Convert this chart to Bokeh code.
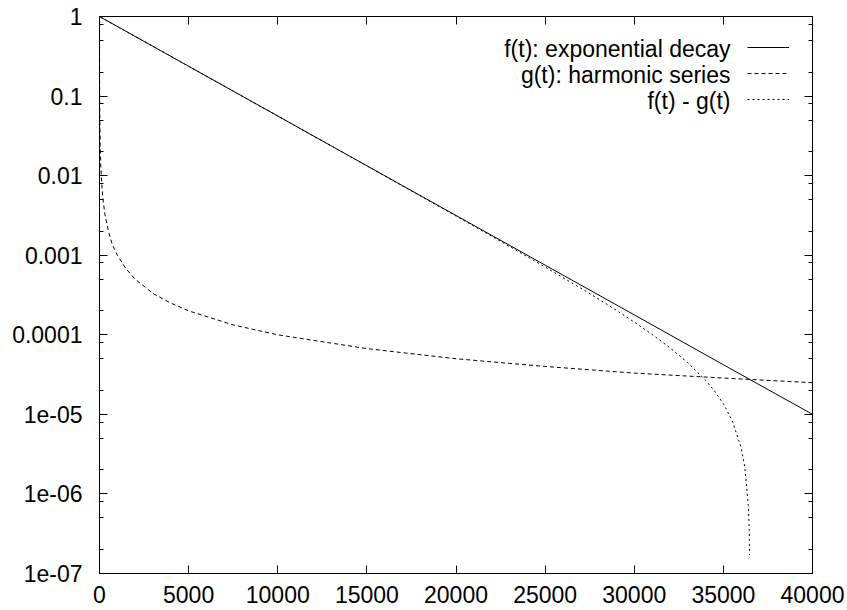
from bokeh.plotting import figure
from bokeh.models import (FixedTicker, LogAxis, LinearAxis, Label, Legend,
                          LegendItem, Range1d)
from bokeh.embed import file_html
from bokeh.resources import INLINE

# ---- axis ticks / labels ----
x_ticks = [0, 5000, 10000, 15000, 20000, 25000, 30000, 35000, 40000]
x_tick_labels = ["0", "5000", "10000", "15000", "20000", "25000", "30000", "35000", "40000"]
y_ticks = [1e-7, 1e-6, 1e-5, 1e-4, 1e-3, 1e-2, 1e-1, 1.0]
y_tick_labels = ["1e-07", "1e-06", "1e-05", "0.0001", "0.001", "0.01", "0.1", "1"]
y_minor_mults = [2, 5, 8]

# ---- series ----
f_t = [0, 5000, 10000, 15000, 20000, 25000, 30000, 35000, 40000]
f_vals = [1.0, 0.237, 0.0562, 0.0133, 0.00316, 0.00075, 0.000178, 4.2e-5, 1.0e-5]

g_t = [0, 5, 10, 20, 40, 70, 100, 150, 200, 300, 500, 700, 1000, 1500, 2000,
       3000, 4000, 5000, 7500, 10000, 15000, 20000, 25000, 30000, 35000, 40000]
g_vals = [1.0, 0.167, 0.091, 0.048, 0.024, 0.014, 0.0099, 0.0066, 0.005, 0.0033,
          0.002, 0.0014, 0.001, 0.00067, 0.0005, 0.00033, 0.00025, 0.0002,
          0.000133, 0.0001, 6.7e-5, 5.0e-5, 4.0e-5, 3.3e-5, 2.86e-5, 2.5e-5]

d_t = [0, 0.001, 0.1, 1, 10, 100, 1000, 5000, 10000, 15000, 20000, 22500, 25000,
       27000, 28000, 29000, 30000, 31000, 32000, 33000, 34000, 34500, 35000,
       35500, 36000, 36200, 36400, 36450, 36470]
d_vals = [5e-8, 0.001, 0.091, 0.5, 0.906, 0.962, 0.749, 0.2369, 0.0561, 0.01327,
          0.00311, 0.0015, 0.00071, 0.000385, 0.000281, 0.000203, 0.0001445,
          0.000101, 6.88e-5, 4.47e-5, 2.68e-5, 1.97e-5, 1.36e-5, 8.3e-6, 3.8e-6,
          2.2e-6, 7.1e-7, 3.5e-7, 1.7e-7]

legend_labels = ["f(t): exponential decay", "g(t): harmonic series", "f(t) - g(t)"]

FONT = "Liberation Sans"
FS = "23px"

p = figure(frame_width=713, frame_height=557,
           x_range=Range1d(0, 40000), y_range=Range1d(1e-7, 1.0),
           y_axis_type="log", output_backend="svg", toolbar_location=None,
           min_border_left=99, min_border_right=35, min_border_top=16,
           min_border_bottom=37)
p.grid.visible = False
p.outline_line_color = "black"
p.outline_line_width = 1
p.background_fill_color = "white"
p.border_fill_color = "white"

y_minor = [m * t for t in y_ticks[:-1] for m in y_minor_mults]
xt = FixedTicker(ticks=x_ticks, minor_ticks=[])
yt = FixedTicker(ticks=y_ticks, minor_ticks=y_minor)


def style_axis(ax, labels):
    ax.axis_line_color = "black"
    ax.major_tick_line_color = "black"
    ax.minor_tick_line_color = "black"
    ax.major_tick_in = 8
    ax.major_tick_out = 0
    ax.minor_tick_in = 4
    ax.minor_tick_out = 0
    ax.major_label_text_font = FONT
    ax.major_label_text_color = "black"
    if labels:
        ax.major_label_text_font_size = FS
    else:
        ax.major_label_text_font_size = "0px"
        ax.major_label_standoff = 0


p.xaxis.ticker = xt
p.yaxis.ticker = yt
style_axis(p.xaxis[0], True)
style_axis(p.yaxis[0], True)
p.xaxis.major_label_overrides = {t: s for t, s in zip(x_ticks, x_tick_labels)}
p.yaxis.major_label_overrides = {t: s for t, s in zip(y_ticks, y_tick_labels)}
p.xaxis.major_label_standoff = 12
p.yaxis.major_label_standoff = 17

top_ax = LinearAxis(ticker=FixedTicker(ticks=x_ticks, minor_ticks=[]))
style_axis(top_ax, False)
top_ax.major_label_overrides = {t: "" for t in x_ticks}
p.add_layout(top_ax, "above")
right_ax = LogAxis(ticker=FixedTicker(ticks=y_ticks, minor_ticks=y_minor))
style_axis(right_ax, False)
right_ax.major_label_overrides = {t: "" for t in y_ticks}
p.add_layout(right_ax, "right")

r_f = p.line(f_t, f_vals, line_color="black", line_width=1)
r_g = p.line(g_t, g_vals, line_color="black", line_width=1, line_dash="4 3")
r_d = p.line(d_t, d_vals, line_color="black", line_width=1, line_dash="2 3")

legend = Legend(items=[LegendItem(label=" ", renderers=[r]) for r in (r_f, r_g, r_d)],
                location=(648, 461), orientation="vertical",
                glyph_width=42, glyph_height=26, label_height=26, label_width=0,
                label_standoff=0, padding=0, margin=0, spacing=0,
                border_line_color=None, background_fill_alpha=0,
                label_text_font_size="1px")
p.add_layout(legend, "center")

for i, txt in enumerate(legend_labels):
    p.add_layout(Label(x=631, y=525 - 26 * i, x_units="screen", y_units="screen",
                       text=txt, text_align="right", text_baseline="middle",
                       text_font=FONT, text_font_size=FS, text_color="black"))

open("out.html", "w").write(file_html(p, INLINE))
